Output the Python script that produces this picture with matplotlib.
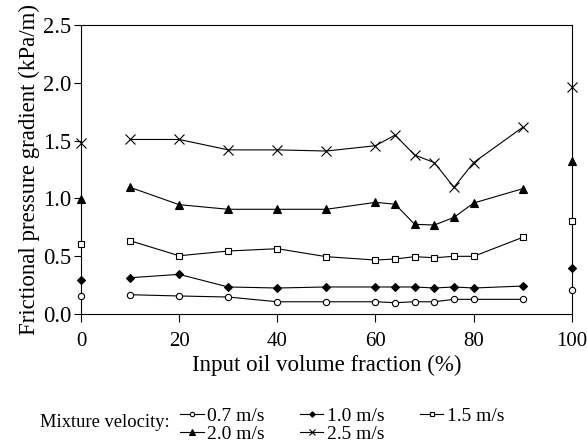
import matplotlib
matplotlib.use("Agg")
import matplotlib.pyplot as plt

plt.rcParams['font.family'] = ['Liberation Serif', 'DejaVu Serif']

# oil fraction (%) for the connected points
oil_frac = [10, 20, 30, 40, 50, 60, 64, 68, 72, 76, 80, 90]
# single-phase points (water at 0 %, oil at 100 %)
ends_x = [0, 100]

dp_07 = [0.167, 0.156, 0.147, 0.106, 0.106, 0.106, 0.098, 0.106, 0.106, 0.127, 0.127, 0.127]
dp_10 = [0.314, 0.343, 0.234, 0.225, 0.234, 0.234, 0.234, 0.234, 0.225, 0.234, 0.225, 0.242]
dp_15 = [0.634, 0.504, 0.545, 0.565, 0.496, 0.467, 0.476, 0.496, 0.487, 0.499, 0.499, 0.663]
dp_20 = [1.096, 0.946, 0.906, 0.906, 0.906, 0.966, 0.950, 0.776, 0.770, 0.836, 0.960, 1.084]
dp_25 = [1.51, 1.51, 1.42, 1.42, 1.41, 1.456, 1.548, 1.375, 1.31, 1.096, 1.31, 1.615]

ends_07 = [0.158, 0.21]
ends_10 = [0.294, 0.395]
ends_15 = [0.603, 0.805]
ends_20 = [0.995, 1.32]
ends_25 = [1.477, 1.96]

labels = ["0.7 m/s", "1.0 m/s", "1.5 m/s", "2.0 m/s", "2.5 m/s"]

series = [
    (dp_07, ends_07, dict(marker='o', mfc='white', ms=4.5)),
    (dp_10, ends_10, dict(marker='D', mfc='black', ms=4)),
    (dp_15, ends_15, dict(marker='s', mfc='white', ms=4.5)),
    (dp_20, ends_20, dict(marker='^', mfc='black', ms=6)),
    (dp_25, ends_25, dict(marker='x', mfc='black', ms=6.5)),
]

fig = plt.figure(figsize=(5.87, 4.47), dpi=100)
ax = fig.add_axes([0.138, 0.2975, 0.836, 0.6465])

handles = []
for (vals, ends, style), lab in zip(series, labels):
    h, = ax.plot(oil_frac, vals, color='black', lw=0.8, mec='black', mew=0.8,
                 label=lab, clip_on=False, **style)
    ax.plot(ends_x, ends, ls='none', color='black', mec='black', mew=0.8,
            clip_on=False, zorder=5, **style)
    handles.append(h)

ax.set_xlim(0, 100)
ax.set_ylim(0, 2.5)
ax.set_xticks([0, 20, 40, 60, 80, 100])
ax.set_yticks([0, 0.5, 1.0, 1.5, 2.0, 2.5])
ax.set_yticklabels(["0.0", "0.5", "1.0", "1.5", "2.0", "2.5"])
ax.tick_params(direction='out', length=6, width=0.8, labelsize=16.3, pad=7)
ax.tick_params(axis='x', labelsize=15)
ax.tick_params(axis='y', length=5, pad=2)
for s in ax.spines.values():
    s.set_linewidth(0.8)

ax.set_xlabel("Input oil volume fraction (%)", fontsize=16.5, labelpad=3)
ax.set_ylabel("Frictional pressure gradient (kPa/m)", fontsize=16.5, labelpad=2)

# legend: row-wise order 0.7,1.0,1.5 / 2.0,2.5
order = [0, 3, 1, 4, 2]
leg = fig.legend([handles[i] for i in order], [labels[i] for i in order],
                 ncol=3, loc='center left', bbox_to_anchor=(0.307, 0.049),
                 frameon=False, fontsize=14, handlelength=1.2, handletextpad=0.2,
                 columnspacing=1.8, labelspacing=0.0, borderpad=0,
                 borderaxespad=0, markerscale=0.7)
fig.text(0.068, 0.054, "Mixture velocity:", fontsize=13.3, va='center', ha='left')

fig.savefig("out.png", dpi=100)
